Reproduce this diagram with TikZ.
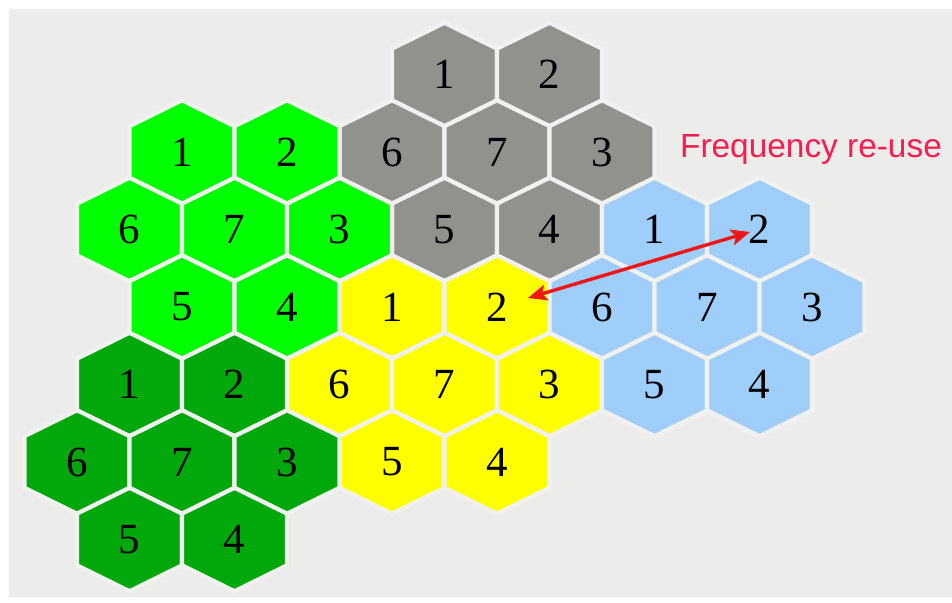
\documentclass[tikz,border=0pt]{standalone}
\usepackage{fontspec}
\setmainfont{Liberation Serif}
\newfontfamily\labelfont{Liberation Sans}
\usetikzlibrary{calc}
\usetikzlibrary{arrows.meta}

\definecolor{bgpanel}{RGB}{236,237,235}
\definecolor{gapline}{RGB}{241,241,240}
\definecolor{cellgray}{RGB}{145,145,142}
\definecolor{celllime}{RGB}{0,255,0}
\definecolor{cellgreen}{RGB}{0,168,12}
\definecolor{cellyellow}{RGB}{255,255,0}
\definecolor{cellblue}{RGB}{160,206,250}
\definecolor{reusered}{RGB}{238,22,22}
\definecolor{reusetext}{RGB}{250,28,78}

\tikzset{
  hexcell/.style={draw=gapline, line width=2.1pt, line join=miter},
  cellnum/.style={font=\fontsize{21.5}{24}\selectfont, inner sep=0pt},
  reuse/.style={reusered, line width=1.7pt, {Stealth[length=9.5pt,width=8pt,inset=2.2pt]}-{Stealth[length=9.5pt,width=8pt,inset=2.2pt]}},
  reuselabel/.style={reusetext, font=\labelfont\fontsize{16.7}{20}\selectfont, inner sep=0pt, anchor=base}
}

\begin{document}
\begin{tikzpicture}[x=0.5pt,y=-0.5pt]
\useasboundingbox (0,0) rectangle (952,603);
\fill[white] (0,0) rectangle (952,603);
\fill[bgpanel] (9,9) rectangle (952,597);

% clusters of seven cells: name / centre / colour
\foreach \cl/\cx/\cy/\col in {gry/497/152/cellgray, lgr/234.5/229.5/celllime, ylw/444.5/384.5/cellyellow, dgr/182/462/cellgreen, blu/707/307/cellblue}{
  \foreach \n/\dx/\dy in {1/-52.5/-77.5, 2/52.5/-77.5, 6/-105/0, 7/0/0, 3/105/0, 5/-52.5/77.5, 4/52.5/77.5}{
    \draw[hexcell, fill=\col] ({\cx+\dx},{\cy+\dy}) +(0,-51.7) -- +(52.5,-25.8) -- +(52.5,25.8) -- +(0,51.7) -- +(-52.5,25.8) -- +(-52.5,-25.8) -- cycle;
    \node[cellnum] (\cl-\n) at ({\cx+\dx},{\cy+\dy}) {\n};
  }
}

\draw[reuse] ($(ylw-2)+(31,-9)$) -- ($(blu-2)+(-9.5,2.5)$);

\node[reuselabel] (reuse-label) at (811,158) {Frequency re-use};

\end{tikzpicture}
\end{document}
